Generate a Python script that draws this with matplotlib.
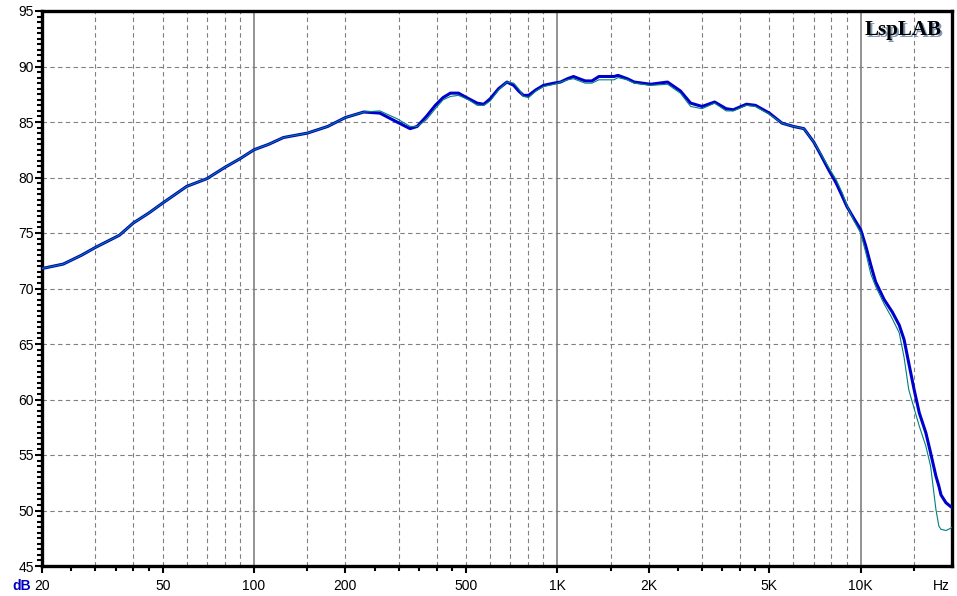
import matplotlib.pyplot as plt
import numpy as np

plt.rcParams['font.family'] = ['Liberation Sans', 'DejaVu Sans']

# frekvens (Hz) og nivå (dB) lest av bildet
frekvens = [20, 23.5, 27, 30, 36, 40, 45, 50, 60, 70, 80, 90, 100, 112, 125,
            150, 175, 200, 230, 260, 296, 327, 345, 370, 396, 420, 444, 472,
            510, 544, 572, 601, 640, 682, 718, 745, 773, 804, 850, 900, 975,
            1024, 1080, 1130, 1180, 1236, 1300, 1371, 1450, 1537, 1585, 1700,
            1792, 2028, 2308, 2544, 2750, 3000, 3300, 3600, 3800, 4200, 4500,
            5000, 5500, 6000, 6500, 7000, 7400, 7840, 8300, 8700, 9000, 9500,
            10000, 10400, 10800, 11200, 11950, 12700, 13400, 13900, 14400,
            15000, 15600, 16400, 17000, 17700, 18100, 18400, 19100, 19800,
            20000]

blaa = [71.8, 72.2, 73.0, 73.7, 74.8, 75.9, 76.8, 77.7, 79.2, 79.9, 80.9,
        81.7, 82.5, 83.0, 83.6, 84.0, 84.6, 85.4, 85.9, 85.8, 85.0, 84.4,
        84.6, 85.5, 86.5, 87.2, 87.6, 87.6, 87.1, 86.7, 86.6, 87.1, 88.0,
        88.6, 88.3, 87.8, 87.4, 87.4, 87.9, 88.3, 88.5, 88.6, 88.9, 89.1,
        88.9, 88.7, 88.7, 89.1, 89.1, 89.1, 89.2, 88.9, 88.6, 88.4, 88.6,
        87.8, 86.7, 86.4, 86.8, 86.2, 86.1, 86.6, 86.5, 85.8, 84.9, 84.6,
        84.4, 83.2, 82.0, 80.7, 79.5, 78.3, 77.4, 76.3, 75.3, 73.8, 72.1,
        70.6, 69.0, 67.9, 66.7, 65.4, 63.3, 60.9, 58.8, 57.0, 55.2, 53.1,
        52.2, 51.4, 50.7, 50.35, 50.3]

turkis = [71.8, 72.2, 73.0, 73.7, 74.8, 75.9, 76.8, 77.7, 79.2, 79.9, 80.9,
          81.7, 82.5, 83.0, 83.6, 84.0, 84.6, 85.4, 85.9, 86.0, 85.3, 84.6,
          84.6, 85.2, 86.2, 87.0, 87.3, 87.4, 87.0, 86.5, 86.5, 86.9, 87.9,
          88.6, 88.5, 88.0, 87.3, 87.2, 87.8, 88.2, 88.4, 88.6, 88.8, 88.9,
          88.7, 88.5, 88.5, 88.8, 88.8, 88.8, 89.0, 88.8, 88.5, 88.3, 88.4,
          87.6, 86.4, 86.2, 86.7, 86.0, 86.0, 86.5, 86.4, 85.7, 84.9, 84.6,
          84.4, 83.2, 82.1, 80.9, 79.8, 78.6, 77.5, 76.1, 75.0, 73.2, 71.3,
          70.2, 68.6, 67.3, 66.0, 63.8, 60.9, 59.2, 57.6, 55.8, 54.0, 50.1,
          48.6, 48.3, 48.2, 48.4, 48.5]

hoved_x = [20, 50, 100, 200, 500, 1000, 2000, 5000, 10000]
hoved_tekst = ['20', '50', '100', '200', '500', '1K', '2K', '5K', '10K']
små_x = [25, 30, 35, 40, 45, 150, 250, 300, 350, 400, 450,
         1500, 2500, 3000, 3500, 4000, 4500, 15000]
rute_stiplet = [30, 40, 50, 60, 70, 80, 90, 150, 200, 300, 400, 500, 600,
                700, 800, 900, 1500, 2000, 3000, 4000, 5000, 6000, 7000,
                8000, 9000, 15000]
rute_hel = [100, 1000, 10000]
y_linjer = [50, 55, 60, 65, 70, 75, 80, 85, 90]

fig = plt.figure(figsize=(9.57, 5.96), dpi=100)
ax = fig.add_axes([42/957, 30/596, 910/957, 555/596])
ax.set_xscale('log')
ax.set_xlim(20, 20000)
ax.set_ylim(45, 95)

# rutenett
for f in rute_stiplet:
    ax.axvline(f, color='#808080', lw=0.8, ls=(0, (4, 3)), zorder=1)
for f in rute_hel:
    ax.axvline(f, color='#808080', lw=1.2, zorder=1)
for y in y_linjer:
    ax.axhline(y, color='#808080', lw=0.8, ls=(0, (4, 3)), zorder=1)

ax.plot(frekvens, blaa, color='#0000CC', lw=2.2, zorder=3)
ax.plot(frekvens, turkis, color='#008080', lw=0.8, zorder=4)

ax.set_xticks(hoved_x)
ax.set_xticklabels(hoved_tekst)
ax.set_xticks(små_x, minor=True)
ax.xaxis.set_minor_formatter(plt.NullFormatter())
ax.set_yticks(np.arange(45, 96, 5))
ax.set_yticks(np.arange(45, 95.1, 0.5), minor=True)

ax.tick_params(axis='both', which='major', direction='out', length=5,
               width=1.5, labelsize=10, colors='black')
ax.tick_params(axis='both', which='minor', direction='out', length=3.5,
               width=1.5)
ax.tick_params(axis='x', which='major', pad=4)
ax.tick_params(axis='y', which='major', pad=1)

for s in ax.spines.values():
    s.set_linewidth(2.4)
    s.set_color('black')

fig.text(12/957, 1 - 590/596, 'dB', color='#0000C0', fontsize=10,
         weight='bold', va='baseline')
fig.text(950/957, 1 - 590/596, 'Hz', color='black', fontsize=10,
         ha='right', va='baseline')

# LspLAB-merke med skygge
fig.text(943.5/957, 1 - 36.5/596, 'LspLAB', family='Liberation Serif',
         weight='bold', fontsize=15, color='#8098B8', ha='right',
         va='baseline', zorder=5)
fig.text(942/957, 1 - 35/596, 'LspLAB', family='Liberation Serif',
         weight='bold', fontsize=15, color='black', ha='right',
         va='baseline', zorder=6)

fig.savefig('out.png', dpi=100)
